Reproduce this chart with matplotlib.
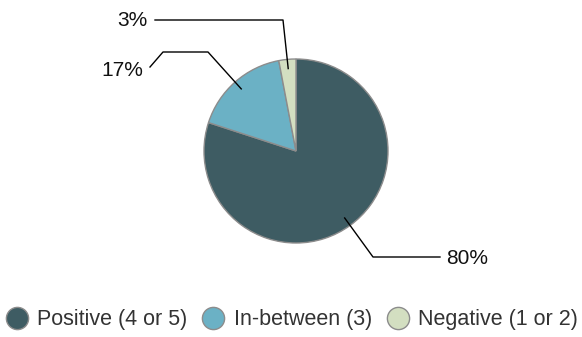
import numpy as np
import matplotlib.pyplot as plt
from matplotlib.lines import Line2D

plt.rcParams['font.family'] = ['Liberation Sans', 'DejaVu Sans']

labels = ['Positive (4 or 5)', 'In-between (3)', 'Negative (1 or 2)']
values = [80, 17, 3]
colors = ['#3e5c63', '#6bb1c5', '#d3dfc1']

W, H = 582, 337
fig = plt.figure(figsize=(W / 100, H / 100), dpi=100)
ax = fig.add_axes([0, 0, 1, 1])

def py(y):
    # image pixel row -> data y
    return H - y

cx, cy, r = 296, py(151), 92
wedges, _ = ax.pie(values, colors=colors, startangle=90, counterclock=False,
                   center=(cx, cy), radius=r, frame=True,
                   wedgeprops=dict(edgecolor='#8c8c8c', linewidth=1))
ax.set_xlim(0, W)
ax.set_ylim(0, H)
ax.set_aspect('equal')
ax.axis('off')

# leader line elbows (image pixels) and label placement
leaders = [
    ([(373, 257), (440, 257)], (446, 259), 'left'),
    ([(208, 52), (163, 52), (150, 67)], (143, 70), 'right'),
    ([(283, 20), (155, 20)], (148, 21), 'right'),
]

for w, v, (pts, tpos, ha) in zip(wedges, values, leaders):
    mid = np.deg2rad((w.theta1 + w.theta2) / 2)
    ax0 = cx + 0.9 * r * np.cos(mid)
    ay0 = cy + 0.9 * r * np.sin(mid)
    xs = [ax0] + [p[0] for p in pts]
    ys = [ay0] + [py(p[1]) for p in pts]
    ax.plot(xs, ys, color='black', lw=1)
    ax.text(tpos[0], py(tpos[1]), f'{v}%', ha=ha, va='center',
            fontsize=15, color='#111111')

handles = [Line2D([], [], marker='o', ls='', markersize=16,
                  markerfacecolor=c, markeredgecolor='#8c8c8c', markeredgewidth=1)
           for c in colors]
fig.legend(handles, labels, loc='center', ncol=3, frameon=False,
           fontsize=15.5, bbox_to_anchor=(0.503, py(320) / H), handlelength=0.9,
           handletextpad=0.5, columnspacing=0.75, labelcolor='#333333',
           borderpad=0, borderaxespad=0)

fig.savefig('out.png', dpi=100)
